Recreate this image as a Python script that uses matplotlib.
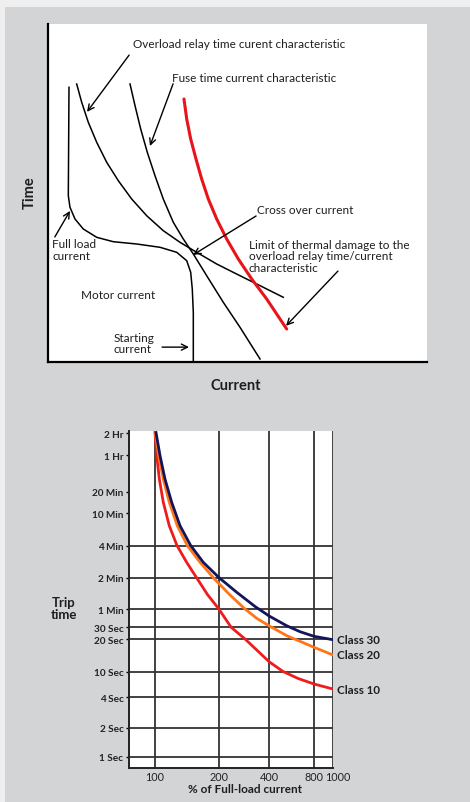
import numpy as np
import matplotlib
matplotlib.use('Agg')
import matplotlib.pyplot as plt
import matplotlib.transforms as mtransforms
from matplotlib.patches import Rectangle

plt.rcParams['font.family'] = ['Lato', 'DejaVu Sans']

# ---- top schematic (arbitrary units, 0-100 on both axes) ----
motor_x = [5.54, 5.36, 5.80, 7.12, 9.31, 12.85, 17.23, 23.40, 29.55, 33.96, 36.60, 37.65, 38.07, 38.34, 38.34]
motor_y = [81.27, 49.20, 45.77, 42.31, 39.35, 36.89, 35.59, 34.91, 33.94, 32.46, 29.97, 26.54, 21.60, 14.70, 0.30]
relay_x = [7.57, 8.89, 10.63, 12.85, 15.49, 18.55, 22.08, 26.04, 30.42, 34.83, 39.23, 44.51, 50.66, 56.81, 62.08]
relay_y = [82.25, 76.83, 70.92, 65.00, 59.08, 53.64, 48.22, 43.28, 38.85, 35.41, 32.46, 28.99, 25.53, 22.10, 19.14]
fuse_x = [21.64, 22.96, 24.46, 26.20, 28.23, 30.42, 33.06, 35.70, 38.34, 41.87, 46.25, 50.66, 55.94]
fuse_y = [82.25, 75.83, 68.93, 62.04, 55.12, 48.22, 41.33, 36.39, 31.95, 25.53, 17.66, 10.27, 0.89]
damage_x = [35.88, 36.60, 37.65, 39.05, 40.55, 42.30, 44.51, 47.15, 50.21, 53.75, 57.70, 62.98]
damage_y = [77.81, 71.89, 65.98, 60.06, 54.14, 48.22, 42.31, 36.39, 30.47, 24.56, 18.64, 9.76]

# ---- bottom chart: trip curves (% of full-load current, seconds) ----
class30_pct = [101.1, 105.6, 111.4, 119.8, 131.1, 147.2, 168.7, 200, 255.7, 329.4, 401, 525, 645, 800, 1000]
class30_sec = [7300, 3530, 1765, 854, 422, 243, 168.5, 121, 87.2, 63.5, 45.8, 31.5, 25.6, 21.9, 19.7]
class20_pct = [100.3, 104.1, 109.4, 116.7, 127.3, 141.9, 162.9, 189.4, 229.7, 286.8, 338.7, 406, 525, 800, 1000]
class20_sec = [7300, 3530, 1765, 854, 422, 243, 168.5, 119, 83.9, 60, 41.6, 30.8, 22.4, 16.8, 14.3]
class10_pct = [100, 101.9, 104.8, 109.4, 116.7, 126.9, 140.9, 157.6, 176.8, 199.7, 236.6, 287,
               401, 497, 625, 800, 1000]
class10_sec = [7300, 3530, 1765, 854, 422, 243, 168.5, 119, 82.5, 60, 29.7, 20,
               12.4, 10.1, 7.9, 6.44, 5.36]

xtick_vals = [100, 200, 400, 800, 1000]
xtick_labels = ['100', '200', '400', '800', '1000']
ytick_vals = [1, 2, 4, 10, 20, 30, 60, 120, 240, 600, 1200, 3600, 7200]
ytick_labels = ['1 Sec', '2 Sec', '4 Sec', '10 Sec', '20 Sec', '30 Sec', '1 Min', '2 Min',
                '4 Min', '10 Min', '20 Min', '1 Hr', '2 Hr']
ygrid_vals = [1, 2, 4, 10, 20, 30, 60, 120, 240]

# hand-drawn axis spacing of the original (log value -> position)
x_anchor_log = np.log10([75, 100, 200, 400, 800, 1000, 1100])
x_anchor_pos = np.array([0, 26, 90, 140, 185, 204, 214])
y_anchor_log = np.log10([0.74, 1, 2, 4, 10, 20, 30, 60, 120, 240, 600, 1200, 3600, 7200, 7700])
y_anchor_pos = np.array([0, 11, 40, 71, 96, 129, 141, 159, 190, 222, 255, 276, 313, 335, 337])


def xf(v):
    with np.errstate(all='ignore'):
        return np.interp(np.log10(np.clip(v, 1e-9, None)), x_anchor_log, x_anchor_pos)


def xi(p):
    return 10 ** np.interp(p, x_anchor_pos, x_anchor_log)


def yf(v):
    with np.errstate(all='ignore'):
        return np.interp(np.log10(np.clip(v, 1e-9, None)), y_anchor_log, y_anchor_pos)


def yi(p):
    return 10 ** np.interp(p, y_anchor_pos, y_anchor_log)


fig = plt.figure(figsize=(4.70, 8.03), dpi=100, facecolor='#efefef')
fig.patches.append(Rectangle((5 / 470, 0), 1, 1 - 8 / 803, transform=fig.transFigure,
                             facecolor='#d3d4d6', edgecolor='none', zorder=-10))

# ---------------- top schematic ----------------
ax1 = fig.add_axes([48 / 470, 1 - 363 / 803, 379 / 470, 338 / 803])
ax1.set_facecolor('white')
ax1.set_xlim(0, 100)
ax1.set_ylim(0, 100)
for s in ['top', 'right']:
    ax1.spines[s].set_visible(False)
for s in ['left', 'bottom']:
    ax1.spines[s].set_linewidth(1.6)
ax1.set_xticks([])
ax1.set_yticks([])

ax1.plot(motor_x, motor_y, color='black', lw=1.1)
ax1.plot(relay_x, relay_y, color='black', lw=1.1)
ax1.plot(fuse_x, fuse_y, color='black', lw=1.1)
ax1.plot(damage_x, damage_y, color='#e8141b', lw=2.2, solid_capstyle='round')

arrow = dict(arrowstyle='->', lw=1.0, color='black', shrinkA=0, shrinkB=0, mutation_scale=11)
fs = 8.5
tc = '#1e1e1e'
ax1.text(22.4, 94.1, 'Overload relay time curent characteristic', fontsize=fs, va='center', color=tc)
ax1.annotate('', xy=(10.3, 74.0), xytext=(21.4, 90.8), arrowprops=arrow)
ax1.text(32.7, 84.3, 'Fuse time current characteristic', fontsize=fs, va='center', color=tc)
ax1.annotate('', xy=(26.9, 63.9), xytext=(33.0, 82.3), arrowprops=arrow)
ax1.text(55.2, 45.0, 'Cross over current', fontsize=fs, va='center', color=tc)
ax1.annotate('', xy=(38.3, 31.7), xytext=(54.9, 43.2), arrowprops=arrow)
ax1.text(53.0, 36.4, 'Limit of thermal damage to the\noverload relay time/current\ncharacteristic',
         fontsize=fs, va='top', linespacing=1.05, color=tc)
ax1.annotate('', xy=(62.8, 10.7), xytext=(76.5, 26.9), arrowprops=arrow)
ax1.text(1.1, 36.6, 'Full load\ncurrent', fontsize=fs, va='top', linespacing=1.05, color=tc)
ax1.annotate('', xy=(5.8, 44.7), xytext=(1.8, 37.0), arrowprops=arrow)
ax1.text(8.7, 20.1, 'Motor current', fontsize=fs, va='center', color=tc)
ax1.text(17.2, 5.6, 'Starting\ncurrent', fontsize=fs, va='center', linespacing=1.05, color=tc)
ax1.annotate('', xy=(37.2, 4.4), xytext=(30.1, 4.4), arrowprops=arrow)

fig.text(30 / 470, 1 - 193 / 803, 'Time', rotation=90, fontsize=10.5, fontweight='bold',
         ha='center', va='center', color=tc)
fig.text(236 / 470, 1 - 386 / 803, 'Current', fontsize=10.5, fontweight='bold',
         ha='center', va='center', color=tc)

# ---------------- bottom trip curves ----------------
ax2 = fig.add_axes([129 / 470, 1 - 769 / 803, 204 / 470, 337 / 803])
ax2.set_facecolor('white')
ax2.set_xscale('function', functions=(xf, xi))
ax2.set_yscale('function', functions=(yf, yi))
ax2.set_xlim(75, 1000)
ax2.set_ylim(0.74, 7700)
ax2.spines['top'].set_visible(False)
ax2.spines['right'].set_visible(False)
for s in ['left', 'bottom']:
    ax2.spines[s].set_linewidth(1.4)
    ax2.spines[s].set_color('#222222')

for v in xtick_vals:
    ax2.axvline(v, color='#333333', lw=1.3, zorder=1)
for v in ygrid_vals:
    ax2.axhline(v, color='#333333', lw=1.3, zorder=1)

ax2.plot(class10_pct, class10_sec, color='#ee1c1c', lw=2.0, zorder=3)
ax2.plot(class20_pct, class20_sec, color='#ff7518', lw=2.0, zorder=3)
ax2.plot(class30_pct, class30_sec, color='#14145a', lw=2.0, zorder=4)

ax2.set_xticks(xtick_vals)
ax2.set_xticklabels(xtick_labels)
ax2.set_yticks(ytick_vals)
ax2.set_yticklabels(ytick_labels)
ax2.xaxis.set_minor_locator(matplotlib.ticker.NullLocator())
ax2.yaxis.set_minor_locator(matplotlib.ticker.NullLocator())
ax2.tick_params(axis='x', length=0, pad=2, labelsize=7.8)
ax2.tick_params(axis='y', length=2.5, width=1, pad=1.5, labelsize=7.2)
for lab in ax2.get_yticklabels():
    lab.set_fontweight('bold')
    lab.set_color('#222222')
for lab in ax2.get_xticklabels():
    lab.set_color('#222222')
shift = mtransforms.ScaledTranslation(3.8 / 72, 0, fig.dpi_scale_trans)
last = ax2.get_xticklabels()[4]
last.set_transform(last.get_transform() + shift)

for name, pct, sec in [('Class 30', class30_pct, class30_sec),
                       ('Class 20', class20_pct, class20_sec),
                       ('Class 10', class10_pct, class10_sec)]:
    ax2.annotate(name, xy=(pct[-1], sec[-1]), xytext=(3, 0), textcoords='offset points',
                 fontsize=8.3, fontweight='bold', va='center', ha='left', color=tc,
                 annotation_clip=False)

fig.text(64 / 470, 1 - 609 / 803, 'Trip\ntime', fontsize=9.5, fontweight='bold',
         ha='center', va='center', linespacing=1.05, color=tc)
fig.text(245 / 470, 1 - 790 / 803, '% of Full-load current', fontsize=8.5, fontweight='bold',
         ha='center', va='center', color=tc)

fig.savefig('out.png', dpi=100, facecolor=fig.get_facecolor())
